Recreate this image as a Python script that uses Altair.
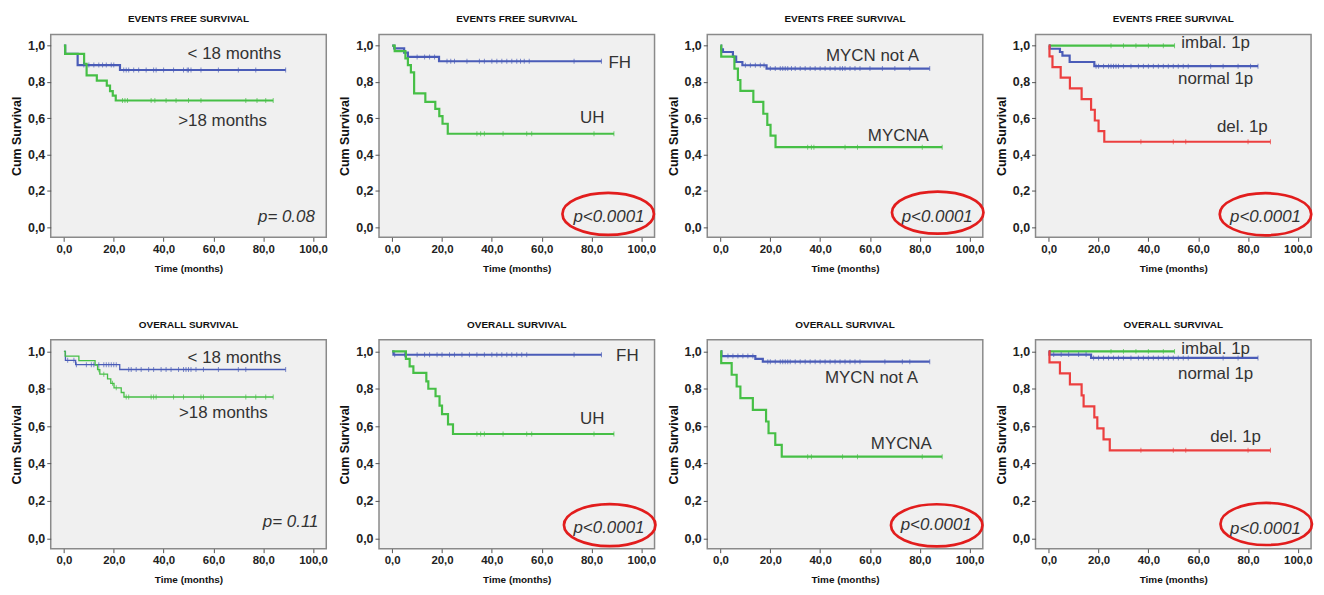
import altair as alt
import pandas as pd

# ---------------- colours ----------------
BLUE = "#4a5cb8"
GREEN = "#46bf46"
RED = "#ec3f3f"
ELLIPSE_RED = "#e21d1d"

# ---------------- axis ticks ----------------
X_TICKS = [0, 20, 40, 60, 80, 100]
Y_TICKS = [0.0, 0.2, 0.4, 0.6, 0.8, 1.0]

# ---------------- panel titles ----------------
TITLES = ["EVENTS FREE SURVIVAL"] * 4 + ["OVERALL SURVIVAL"] * 4

# ================= EFS by age =================
EFS_AGE_LT18_T = [0, 0.5, 5.5, 22.5, 89]
EFS_AGE_LT18_S = [1.0, 0.955, 0.893, 0.866, 0.866]
EFS_AGE_LT18_C = [8, 10, 12, 14, 15.5, 17, 19, 20, 24, 25, 26, 28, 30, 33, 36, 37, 40, 44, 48, 49.5, 50, 51, 55, 62, 70, 77, 89]
EFS_AGE_GT18_T = [0, 0.5, 8.1, 9.1, 13.2, 17.2, 18.5, 19.6, 20.8, 84]
EFS_AGE_GT18_S = [1.0, 0.955, 0.9, 0.836, 0.808, 0.78, 0.75, 0.725, 0.698, 0.698]
EFS_AGE_GT18_C = [23.5, 24.5, 25.5, 35, 36.5, 41, 45, 50, 55, 73, 77.5, 81, 84]

# ================= EFS by histology =================
EFS_HIST_FH_T = [0, 0.8, 4.8, 6.3, 18.8, 84]
EFS_HIST_FH_S = [1.0, 0.985, 0.962, 0.938, 0.914, 0.914]
EFS_HIST_FH_C = [10, 13, 15, 17, 22, 23.5, 25, 30, 35, 37, 40, 42, 44, 46, 48, 50, 51.5, 53, 55, 73, 84]
EFS_HIST_UH_T = [0, 1.0, 5.3, 6.3, 7.5, 8.8, 13.3, 17.3, 18.9, 20.2, 22.3, 89]
EFS_HIST_UH_S = [1.0, 0.97, 0.93, 0.893, 0.853, 0.737, 0.69, 0.652, 0.612, 0.57, 0.515, 0.515]
EFS_HIST_UH_C = [34, 35.5, 37, 44.5, 54, 56, 81, 89]

# ================= EFS by MYCN =================
EFS_MYCN_NOTA_T = [0, 0.3, 1.0, 5.0, 6.3, 8.8, 18.5, 84]
EFS_MYCN_NOTA_S = [1.0, 0.98, 0.965, 0.94, 0.91, 0.892, 0.874, 0.874]
EFS_MYCN_NOTA_C = [10, 12, 14, 16, 17.5, 20, 22, 24, 25, 26, 27, 28.5, 30, 32, 34, 36, 38, 40, 42, 44, 46, 48, 49, 50, 52, 54, 56, 60, 65, 70, 76, 84]
EFS_MYCN_A_T = [0, 0.3, 5.6, 7.0, 8.0, 13.2, 17.2, 18.8, 20.1, 22.1, 89]
EFS_MYCN_A_S = [1.0, 0.94, 0.874, 0.811, 0.751, 0.69, 0.625, 0.564, 0.505, 0.441, 0.441]
EFS_MYCN_A_C = [35, 36.5, 37.5, 50, 55, 81, 89]

# ================= EFS by 1p =================
EFS_1P_IMB_T = [0, 50.5]
EFS_1P_IMB_S = [1.0, 1.0]
EFS_1P_IMB_C = [25, 30, 35, 40, 46, 50.5]
EFS_1P_NORM_T = [0, 0.4, 4.5, 5.5, 8.4, 18.3, 84]
EFS_1P_NORM_S = [1.0, 0.983, 0.965, 0.945, 0.91, 0.887, 0.887]
EFS_1P_NORM_C = [19, 20, 22, 24, 25, 26, 27, 28, 30, 33, 36, 38, 40, 42, 44, 46, 48, 50, 52, 54, 56, 65, 70, 76, 81, 84]
EFS_1P_DEL_T = [0, 0.3, 1.5, 4.8, 8.5, 13.2, 17.0, 18.5, 20.0, 22.3, 89]
EFS_1P_DEL_S = [1.0, 0.941, 0.882, 0.824, 0.765, 0.706, 0.647, 0.588, 0.529, 0.471, 0.471]
EFS_1P_DEL_C = [37, 50, 55, 80, 89]

# ================= OS by age =================
OS_AGE_LT18_T = [0, 0.6, 4.7, 22.4, 89]
OS_AGE_LT18_S = [1.0, 0.952, 0.929, 0.903, 0.903]
OS_AGE_LT18_C = [1.5, 4, 5, 9, 11, 12, 14, 16, 17, 18, 19, 20, 21, 26, 27, 29, 31, 34, 36, 39, 41, 43, 46, 48, 49, 50, 51, 53, 56, 62, 70, 73, 89]
OS_AGE_GT18_T = [0, 0.5, 6.0, 12.5, 13.5, 14.4, 17.5, 18.8, 20.1, 23.0, 24.1, 84]
OS_AGE_GT18_S = [1.0, 0.975, 0.951, 0.927, 0.902, 0.878, 0.853, 0.829, 0.805, 0.78, 0.756, 0.756]
OS_AGE_GT18_C = [14, 16, 19.5, 21, 25, 26, 35, 36, 37, 44, 48, 55, 56, 73, 77, 81, 84]

# ================= OS by histology =================
OS_HIST_FH_T = [0, 0.5, 84]
OS_HIST_FH_S = [1.0, 0.982, 0.982]
OS_HIST_FH_C = [1, 5, 10, 13, 15, 18, 20, 23, 25, 28, 31, 34, 37, 40, 42, 44, 46, 48, 50, 52, 54, 73, 84]
OS_HIST_UH_T = [0, 5.5, 7.0, 8.5, 13.7, 14.5, 17.4, 19.0, 20.0, 22.4, 24.4, 89]
OS_HIST_UH_S = [1.0, 0.96, 0.92, 0.885, 0.84, 0.80, 0.76, 0.71, 0.664, 0.61, 0.558, 0.558]
OS_HIST_UH_C = [34, 35.5, 37, 44.5, 54, 56, 81, 89]

# ================= OS by MYCN =================
OS_MYCN_NOTA_T = [0, 0.4, 14.0, 17.0, 84]
OS_MYCN_NOTA_S = [1.0, 0.975, 0.96, 0.945, 0.945]
OS_MYCN_NOTA_C = [3, 5, 7, 9, 11, 13, 19, 20, 22, 24, 25, 26, 27, 28, 30, 32, 34, 36, 38, 40, 42, 44, 46, 48, 50, 52, 54, 56, 66, 73, 76, 84]
OS_MYCN_A_T = [0, 0.3, 4.5, 6.5, 8.0, 13.0, 18.3, 19.3, 22.0, 24.6, 89]
OS_MYCN_A_S = [1.0, 0.937, 0.875, 0.812, 0.75, 0.687, 0.625, 0.562, 0.5, 0.437, 0.437]
OS_MYCN_A_C = [35, 36.5, 49, 55, 81, 89]

# ================= OS by 1p =================
OS_1P_IMB_T = [0, 50.5]
OS_1P_IMB_S = [1.0, 1.0]
OS_1P_IMB_C = [25, 30, 35, 40, 46, 50.5]
OS_1P_NORM_T = [0, 0.3, 17.0, 84]
OS_1P_NORM_S = [1.0, 0.983, 0.965, 0.965]
OS_1P_NORM_C = [2, 5, 8, 12, 15, 18, 20, 22, 24, 26, 28, 30, 33, 36, 38, 40, 42, 44, 46, 48, 50, 52, 54, 56, 70, 76, 84]
OS_1P_DEL_T = [0, 0.3, 4.5, 8.5, 13.2, 14.0, 18.3, 19.5, 22.0, 24.5, 89]
OS_1P_DEL_S = [1.0, 0.941, 0.882, 0.824, 0.765, 0.706, 0.647, 0.588, 0.529, 0.471, 0.471]
OS_1P_DEL_C = [37, 50, 55, 80, 89]

# ---------------- annotation texts (label, t, survival) ----------------
LABELS = [
    [("< 18 months", 68.4, 0.954), (">18 months", 63.7, 0.587)],
    [("FH", 91.3, 0.906), ("UH", 80.3, 0.60)],
    [("MYCN not A", 61.0, 0.942), ("MYCNA", 71.4, 0.505)],
    [("imbal. 1p", 67.0, 1.013), ("normal 1p", 67.0, 0.817), ("del. 1p", 77.7, 0.552)],
    [("< 18 months", 68.4, 0.965), (">18 months", 64.0, 0.671)],
    [("FH", 94.4, 0.973), ("UH", 80.3, 0.637)],
    [("MYCN not A", 60.6, 0.86), ("MYCNA", 72.6, 0.505)],
    [("imbal. 1p", 67.0, 1.012), ("normal 1p", 67.0, 0.878), ("del. 1p", 75.0, 0.54)],
]
P_TEXT = ["p= 0.08", "p<0.0001", "p<0.0001", "p<0.0001",
          "p= 0.11", "p<0.0001", "p<0.0001", "p<0.0001"]
P_POS = [(89.3, 0.055), (87.0, 0.055), (87.0, 0.055), (87.0, 0.054),
         (91.0, 0.088), (87.0, 0.053), (86.6, 0.07), (87.0, 0.05)]
ELLIPSE_POS = [None, (86.7, 0.074), (87.2, 0.081), (87.0, 0.072),
               None, (87.3, 0.071), (86.8, 0.07), (87.3, 0.077)]

PANEL_CURVES = [
    [(EFS_AGE_LT18_T, EFS_AGE_LT18_S, EFS_AGE_LT18_C, BLUE), (EFS_AGE_GT18_T, EFS_AGE_GT18_S, EFS_AGE_GT18_C, GREEN)],
    [(EFS_HIST_FH_T, EFS_HIST_FH_S, EFS_HIST_FH_C, BLUE), (EFS_HIST_UH_T, EFS_HIST_UH_S, EFS_HIST_UH_C, GREEN)],
    [(EFS_MYCN_NOTA_T, EFS_MYCN_NOTA_S, EFS_MYCN_NOTA_C, BLUE), (EFS_MYCN_A_T, EFS_MYCN_A_S, EFS_MYCN_A_C, GREEN)],
    [(EFS_1P_IMB_T, EFS_1P_IMB_S, EFS_1P_IMB_C, GREEN), (EFS_1P_NORM_T, EFS_1P_NORM_S, EFS_1P_NORM_C, BLUE),
     (EFS_1P_DEL_T, EFS_1P_DEL_S, EFS_1P_DEL_C, RED)],
    [(OS_AGE_LT18_T, OS_AGE_LT18_S, OS_AGE_LT18_C, BLUE), (OS_AGE_GT18_T, OS_AGE_GT18_S, OS_AGE_GT18_C, GREEN)],
    [(OS_HIST_FH_T, OS_HIST_FH_S, OS_HIST_FH_C, BLUE), (OS_HIST_UH_T, OS_HIST_UH_S, OS_HIST_UH_C, GREEN)],
    [(OS_MYCN_NOTA_T, OS_MYCN_NOTA_S, OS_MYCN_NOTA_C, BLUE), (OS_MYCN_A_T, OS_MYCN_A_S, OS_MYCN_A_C, GREEN)],
    [(OS_1P_IMB_T, OS_1P_IMB_S, OS_1P_IMB_C, GREEN), (OS_1P_NORM_T, OS_1P_NORM_S, OS_1P_NORM_C, BLUE),
     (OS_1P_DEL_T, OS_1P_DEL_S, OS_1P_DEL_C, RED)],
]
LINE_WIDTH = [2.2, 2.2, 2.2, 2.2, 1.3, 2.2, 2.2, 2.2]

FONT = "Liberation Sans"
PANEL_W = 277
ROW_H = [204, 210]
X_DOMAIN = [-5.3, 105.3]
Y_DOMAIN = [-0.055, 1.062]

ELLIPSE_PATH = "M-1,0A1,0.46,0,1,1,1,0A1,0.46,0,1,1,-1,0Z"


def step_value(ts, ss, c):
    v = ss[0]
    for t, s in zip(ts, ss):
        if t <= c:
            v = s
    return v


def make_panel(i):
    curves = PANEL_CURVES[i]
    line_rows, cens_rows = [], []
    for k, (ts, ss, cs, col) in enumerate(curves):
        for t, s in zip(ts, ss):
            line_rows.append({"t": t, "s": s, "curve": k, "col": col})
        for c in cs:
            cens_rows.append({"t": c, "s": step_value(ts, ss, c), "col": col})
    line_df = pd.DataFrame(line_rows)
    cens_df = pd.DataFrame(cens_rows)
    lab_df = pd.DataFrame([{"t": t, "s": s, "label": l} for (l, t, s) in LABELS[i]])
    p_df = pd.DataFrame([{"t": P_POS[i][0], "s": P_POS[i][1], "label": P_TEXT[i]}])

    x = alt.X("t:Q", scale=alt.Scale(domain=X_DOMAIN, nice=False, zero=False),
              axis=alt.Axis(values=X_TICKS, title="Time (months)",
                            labelExpr="replace(format(datum.value, '.1f'), '.', ',')"))
    y = alt.Y("s:Q", scale=alt.Scale(domain=Y_DOMAIN, nice=False, zero=False),
              axis=alt.Axis(values=Y_TICKS, title="Cum Survival",
                            labelExpr="replace(format(datum.value, '.1f'), '.', ',')"))

    lines = alt.Chart(line_df).mark_line(interpolate="step-after", strokeWidth=LINE_WIDTH[i]).encode(
        x=x, y=y, color=alt.Color("col:N", scale=None), detail="curve:N")
    ticks = alt.Chart(cens_df).mark_tick(orient="vertical", size=5, thickness=1).encode(
        x="t:Q", y="s:Q", color=alt.Color("col:N", scale=None))
    labels = alt.Chart(lab_df).mark_text(font=FONT, fontSize=17, color="#333333", align="center",
                                         baseline="middle").encode(x="t:Q", y="s:Q", text="label:N")
    ptext = alt.Chart(p_df).mark_text(font=FONT, fontSize=17, fontStyle="italic", color="#333333",
                                      align="center", baseline="middle").encode(x="t:Q", y="s:Q", text="label:N")
    layers = [lines, ticks, labels, ptext]
    if ELLIPSE_POS[i] is not None:
        e_df = pd.DataFrame([{"t": ELLIPSE_POS[i][0], "s": ELLIPSE_POS[i][1]}])
        ell = alt.Chart(e_df).mark_point(shape=ELLIPSE_PATH, size=8464, filled=False,
                                          color=ELLIPSE_RED, strokeWidth=2.7, opacity=1).encode(
            x="t:Q", y="s:Q")
        layers.append(ell)
    return alt.layer(*layers).properties(
        width=PANEL_W, height=ROW_H[i // 4],
        title=alt.TitleParams(TITLES[i], font=FONT, fontSize=10, fontWeight="bold",
                              color="#111111", offset=10, anchor="middle"))


panels = [make_panel(i) for i in range(8)]

chart = alt.concat(*panels, columns=4, spacing={"row": 103, "column": 53}, bounds="flush").properties(
    padding={"left": 9, "top": 12, "right": 5, "bottom": 5},
    background="white",
).configure_view(
    fill="#f0f0f0", stroke="#8a8a8a", strokeWidth=1.5
).configure_axis(
    grid=False, domain=False, tickSize=4, tickColor="#555555", tickWidth=1,
    labelFont=FONT, labelFontSize=11.5, labelFontWeight="bold", labelColor="#222222", labelPadding=2,
    titleFont=FONT, titleFontSize=10, titleFontWeight="bold", titleColor="#111111",
).configure_axisY(titleFontSize=12.5, labelFontSize=12.5, titlePadding=4
).configure_axisX(titlePadding=9)

chart.save("out.html", embed_options={"renderer": "svg", "actions": False})
